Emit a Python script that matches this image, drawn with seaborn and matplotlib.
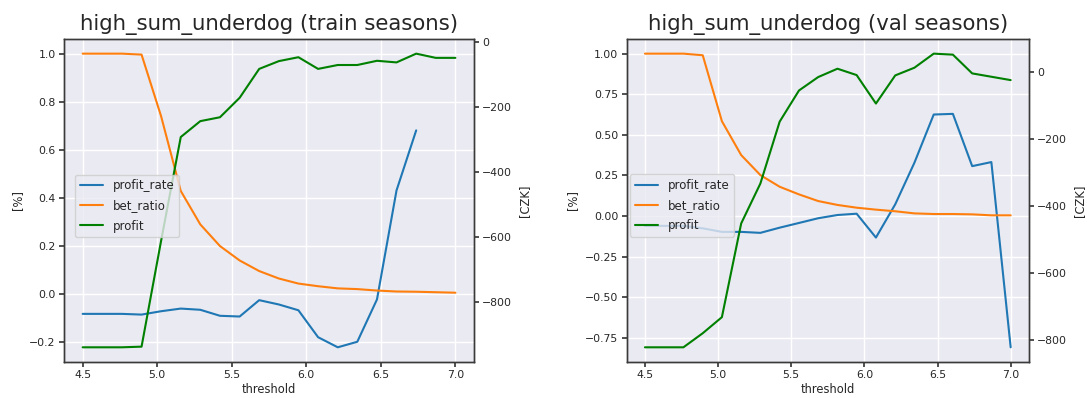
import numpy as np
import pandas as pd
import matplotlib
matplotlib.use("Agg")
import matplotlib.pyplot as plt
import seaborn as sns

thresholds = [4.5, 4.632, 4.763, 4.895, 5.026, 5.158, 5.289, 5.421, 5.553, 5.684,
              5.816, 5.947, 6.079, 6.211, 6.342, 6.474, 6.605, 6.737, 6.868, 7.0]

train_profit_rate = [-0.082, -0.082, -0.082, -0.085, -0.071, -0.060, -0.065, -0.090, -0.093, -0.025,
                     -0.043, -0.067, -0.179, -0.221, -0.198, -0.022, 0.431, 0.681, np.nan, np.nan]
train_bet_ratio = [1.0, 1.0, 1.0, 0.996, 0.74, 0.429, 0.290, 0.200, 0.140, 0.096,
                   0.065, 0.044, 0.033, 0.024, 0.021, 0.015, 0.011, 0.010, 0.008, 0.006]
train_profit = [-941, -941, -941, -939, -613, -293, -244, -232, -172, -83,
                -59, -47, -83, -71, -71, -58, -63, -36, -49, -49]

val_profit_rate = [-0.061, -0.061, -0.061, -0.076, -0.098, -0.098, -0.104, -0.072, -0.043, -0.014,
                   0.006, 0.014, -0.133, 0.072, 0.328, 0.625, 0.629, 0.307, 0.332, -0.809]
val_bet_ratio = [1.0, 1.0, 1.0, 0.99, 0.584, 0.375, 0.252, 0.180, 0.133, 0.092,
                 0.068, 0.051, 0.039, 0.029, 0.016, 0.012, 0.012, 0.010, 0.004, 0.004]
val_profit = [-822, -822, -822, -780, -732, -452, -333, -148, -55, -15,
              10, -9, -94, -10, 13, 55, 52, -4, -14, -24]

sns.set_theme(style="darkgrid")
plt.rcParams.update({
    "axes.edgecolor": "#3a3a3a",
    "axes.linewidth": 1.0,
    "xtick.bottom": True,
    "ytick.left": True,
    "xtick.major.size": 3.5,
    "ytick.major.size": 3.5,
    "xtick.color": "#3a3a3a",
    "ytick.color": "#3a3a3a",
    "xtick.labelcolor": "#262626",
    "ytick.labelcolor": "#262626",
    "font.family": ["DejaVu Sans"],
})

fig = plt.figure(figsize=(10.87, 3.98), dpi=100)
positions = [[0.0589, 0.0905, 0.3772, 0.8116], [0.5765, 0.0905, 0.3701, 0.8116]]
legend_anchors = [(0.027, 0.483), (0.008, 0.485)]
panels = [
    ("high_sum_underdog (train seasons)", train_profit_rate, train_bet_ratio, train_profit),
    ("high_sum_underdog (val seasons)", val_profit_rate, val_bet_ratio, val_profit),
]

for pos, anchor, (title, pr, br, pf) in zip(positions, legend_anchors, panels):
    ax = fig.add_axes(pos)
    df = pd.DataFrame({"threshold": thresholds, "profit_rate": pr,
                       "bet_ratio": br, "profit": pf})
    sns.lineplot(data=df, x="threshold", y="profit_rate", ax=ax, color="#1f77b4",
                 label="profit_rate", estimator=None, linewidth=1.5, legend=False)
    sns.lineplot(data=df, x="threshold", y="bet_ratio", ax=ax, color="#ff7f0e",
                 label="bet_ratio", estimator=None, linewidth=1.5, legend=False)
    ax2 = ax.twinx()
    sns.lineplot(data=df, x="threshold", y="profit", ax=ax2, color="green",
                 label="profit", estimator=None, linewidth=1.5, legend=False)
    ax2.grid(False)
    ax.set_xticks([4.5, 5.0, 5.5, 6.0, 6.5, 7.0])
    ax.tick_params(axis="both", labelsize=7.8, pad=2.5)
    ax2.tick_params(axis="y", labelsize=7.8, right=True, length=3.5, pad=2.5)
    ax.set_xlabel("threshold", fontsize=8.3, color="#262626", labelpad=2)
    ax.set_ylabel("[%]", fontsize=8.3, color="#262626")
    ax2.set_ylabel("[CZK]", fontsize=8.3, color="#262626")
    ax.set_title(title, fontsize=15.3, color="#262626", pad=6.5)
    for s in ax2.spines.values():
        s.set_edgecolor("#3a3a3a")
    h1, l1 = ax.get_legend_handles_labels()
    h2, l2 = ax2.get_legend_handles_labels()
    ax2.legend(h1 + h2, l1 + l2, loc="center left", bbox_to_anchor=anchor,
               borderaxespad=0, fontsize=8.5, labelspacing=0.6, framealpha=0.8)

fig.savefig("out.png", dpi=100)
